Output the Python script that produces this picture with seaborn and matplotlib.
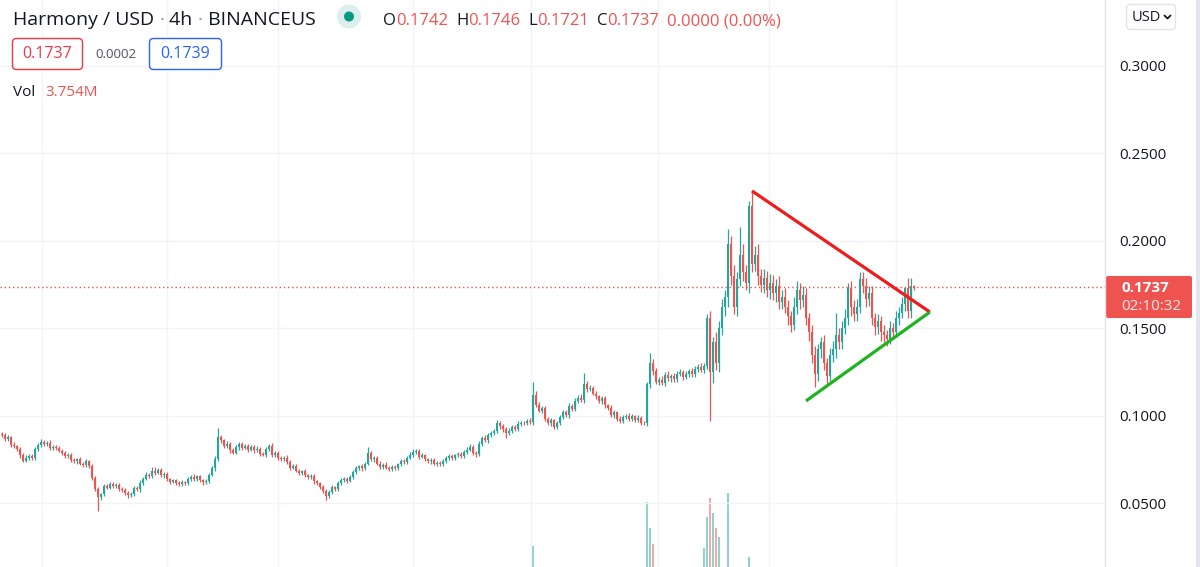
import numpy as np
import pandas as pd
import matplotlib
matplotlib.use("Agg")
import matplotlib.pyplot as plt
import seaborn as sns
from matplotlib.patches import FancyBboxPatch, Rectangle, Circle

# ---------------- data (prices in 1e-4 USD) ----------------
first_open = 895
closes = [
    890, 868, 878, 835, 826, 812, 775, 745, 762, 772,
    760, 812, 832, 852, 838, 848, 815, 825, 818, 802,
    790, 770, 778, 748, 740, 752, 728, 720, 742, 715,
    648, 585, 538, 552, 598, 590, 612, 600, 608, 585,
    578, 560, 548, 552, 590, 580, 618, 640, 662, 655,
    688, 676, 692, 660, 668, 640, 625, 632, 618, 610,
    622, 615, 640, 652, 640, 655, 632, 620, 628, 665,
    700, 752, 880, 860, 828, 842, 805, 790, 820, 842,
    818, 830, 808, 822, 805, 812, 785, 778, 810, 830,
    775, 790, 760, 752, 762, 738, 705, 715, 688, 675,
    685, 662, 650, 658, 628, 615, 595, 572, 542, 568,
    592, 580, 615, 635, 642, 630, 650, 678, 702, 712,
    700, 728, 790, 752, 762, 728, 708, 722, 705, 698,
    710, 702, 725, 742, 735, 762, 778, 792, 800, 768,
    775, 752, 740, 748, 728, 732, 725, 745, 760, 772,
    760, 775, 782, 772, 795, 808, 822, 790, 780, 842,
    875, 862, 890, 902, 915, 958, 940, 925, 905, 915,
    938, 925, 955, 962, 958, 972, 965, 1120, 1065, 1030,
    1045, 985, 962, 975, 935, 960, 995, 1022, 1005, 1058,
    1040, 1088, 1105, 1090, 1180, 1152, 1160, 1128, 1112, 1085,
    1100, 1060, 1048, 1005, 1020, 985, 972, 992, 1002, 985,
    998, 978, 990, 962, 958, 1180, 1300, 1255, 1195, 1208,
    1190, 1235, 1215, 1228, 1210, 1242, 1250, 1225, 1238, 1255,
    1240, 1270, 1282, 1265, 1285, 1560, 1250, 1420, 1300, 1500,
    1620, 1680, 1980, 1800, 1620, 1780, 1920, 1820, 1760, 2200,
    1870, 1920, 1800, 1750, 1790, 1720, 1760, 1700, 1740, 1650,
    1680, 1620, 1570, 1520, 1620, 1720, 1660, 1690, 1560, 1480,
    1350, 1240, 1380, 1420, 1300, 1230, 1350, 1380, 1460, 1420,
    1500, 1560, 1730, 1620, 1580, 1620, 1780, 1740, 1670, 1700,
    1560, 1510, 1540, 1480, 1460, 1440, 1500, 1480, 1560, 1590,
    1640, 1730, 1600, 1742, 1737,
]
wick_up = [
    15, 10, 12, 8, 14, 10, 9, 12, 15, 10,
    12, 10, 14, 18, 10, 8, 12, 10, 9, 12,
    10, 8, 12, 9, 10, 8, 11, 10, 14, 9,
    10, 8, 12, 10, 14, 12, 10, 9, 11, 10,
    8, 10, 9, 12, 10, 12, 14, 10, 16, 12,
    18, 20, 10, 9, 12, 10, 8, 10, 9, 12,
    10, 8, 12, 10, 14, 10, 9, 8, 10, 12,
    14, 20, 50, 12, 10, 14, 10, 12, 15, 10,
    12, 10, 9, 12, 10, 14, 8, 10, 14, 12,
    15, 10, 12, 9, 10, 14, 10, 9, 12, 10,
    8, 10, 9, 12, 10, 8, 10, 9, 12, 10,
    12, 10, 14, 10, 12, 10, 14, 12, 10, 9,
    12, 10, 30, 12, 10, 9, 12, 10, 14, 10,
    10, 12, 9, 10, 12, 10, 14, 18, 12, 10,
    12, 10, 9, 12, 10, 8, 10, 12, 14, 10,
    12, 10, 14, 12, 10, 15, 20, 12, 10, 14,
    12, 15, 10, 14, 12, 20, 15, 12, 10, 14,
    12, 10, 14, 10, 12, 10, 14, 75, 20, 15,
    12, 14, 10, 12, 10, 14, 12, 15, 10, 14,
    12, 15, 14, 18, 65, 20, 15, 12, 14, 10,
    12, 14, 10, 12, 15, 10, 14, 12, 10, 15,
    12, 10, 14, 10, 12, 15, 60, 25, 20, 15,
    18, 15, 20, 14, 18, 15, 20, 14, 18, 15,
    20, 18, 15, 20, 18, 20, 40, 30, 60, 40,
    50, 40, 90, 50, 60, 40, 160, 60, 40, 30,
    86, 50, 60, 40, 50, 40, 50, 45, 40, 60,
    40, 50, 40, 30, 60, 50, 40, 50, 40, 30,
    40, 50, 30, 30, 40, 30, 40, 50, 130, 40,
    40, 50, 30, 40, 40, 50, 40, 40, 50, 40,
    40, 30, 40, 30, 40, 30, 40, 30, 40, 30,
    40, 0, 60, 48, 4,
]
wick_dn = [
    10, 12, 9, 14, 10, 12, 15, 10, 8, 12,
    10, 9, 12, 10, 8, 12, 10, 9, 12, 10,
    12, 10, 9, 12, 10, 14, 10, 12, 9, 10,
    12, 14, 80, 20, 12, 10, 9, 12, 10, 14,
    12, 10, 15, 12, 10, 9, 12, 10, 8, 10,
    10, 12, 9, 10, 12, 10, 14, 10, 12, 10,
    9, 10, 12, 10, 9, 12, 10, 14, 10, 9,
    10, 12, 10, 14, 10, 12, 15, 10, 9, 12,
    10, 9, 12, 10, 14, 10, 12, 9, 10, 12,
    10, 12, 9, 10, 12, 10, 14, 10, 9, 12,
    10, 12, 9, 10, 14, 12, 10, 12, 20, 10,
    12, 10, 9, 12, 10, 14, 10, 12, 10, 9,
    12, 10, 10, 12, 14, 10, 12, 10, 9, 12,
    10, 12, 9, 10, 12, 10, 9, 12, 10, 14,
    10, 12, 10, 14, 10, 12, 10, 9, 12, 10,
    12, 10, 9, 12, 10, 14, 10, 12, 15, 10,
    12, 10, 14, 10, 12, 10, 14, 15, 30, 12,
    10, 12, 10, 14, 10, 12, 10, 15, 12, 10,
    14, 12, 15, 20, 12, 10, 14, 12, 10, 14,
    12, 10, 14, 12, 15, 14, 12, 10, 14, 12,
    15, 12, 14, 10, 15, 12, 14, 12, 10, 15,
    12, 14, 10, 12, 10, 15, 20, 18, 15, 20,
    15, 18, 14, 20, 15, 18, 14, 20, 15, 18,
    15, 20, 18, 15, 20, 15, 280, 60, 40, 50,
    40, 50, 60, 50, 40, 50, 40, 50, 40, 60,
    50, 40, 50, 40, 50, 40, 50, 40, 50, 40,
    40, 30, 50, 40, 30, 40, 50, 40, 40, 50,
    50, 74, 40, 50, 40, 50, 30, 40, 50, 40,
    40, 30, 40, 50, 40, 40, 30, 40, 50, 40,
    40, 50, 40, 50, 40, 40, 30, 40, 30, 40,
    30, 40, 40, 40, 16,
]
# volume spikes (candle index, volume in millions)
vol_idx = [177, 215, 216, 217, 234, 235, 236, 237, 238, 239, 242, 249]
vol_val = [22, 69, 41, 24, 20, 53, 73, 57, 41, 32, 78, 11]

price_ticks = [0.05, 0.10, 0.15, 0.20, 0.25, 0.30]
price_labels = ["0.0500", "0.1000", "0.1500", "0.2000", "0.2500", "0.3000"]
time_grid = [13.33, 55, 92, 137, 176.33, 218.67, 255.67, 298]

last_price = 0.1737
res_x = [250, 309.3]
res_y = [0.2286, 0.1594]
sup_x = [268, 309.3]
sup_y = [0.1086, 0.1594]

UP, DN = "#26a69a", "#ef5350"

# ---------------- derived OHLC ----------------
c = np.array(closes) / 1e4
o = np.concatenate([[first_open / 1e4], c[:-1]])
hi = np.maximum(o, c) + np.array(wick_up) / 1e4
lo = np.minimum(o, c) - np.array(wick_dn) / 1e4
idx = np.arange(len(c))
df = pd.DataFrame({"i": idx, "open": o, "close": c, "high": hi, "low": lo})
df["up"] = df["close"] >= df["open"]
df["color"] = np.where(df["up"], UP, DN)

# ---------------- figure ----------------
sns.set_theme(style="white")
plt.rcParams["font.family"] = ["Open Sans", "DejaVu Sans"]
W, H = 1200, 567
fig = plt.figure(figsize=(W / 100, H / 100), dpi=100)
fig.patch.set_facecolor("white")
rect = [0, 0, 1105 / W, 1]
XL = (-0.667, 367.67)

axv = fig.add_axes(rect)
axv.set_xlim(*XL)
axv.set_ylim(0, 600)
axv.axis("off")
vcol = [UP if df["up"][k] else DN for k in vol_idx]
axv.bar(vol_idx, vol_val, width=0.5, color=vcol, alpha=0.5, linewidth=0)

ax = fig.add_axes(rect)
ax.patch.set_visible(False)
ax.set_xlim(*XL)
ax.set_ylim(0.013714, 0.33771)
for s in ax.spines.values():
    s.set_visible(False)
ax.set_yticks(price_ticks)
ax.set_yticklabels(price_labels)
ax.yaxis.tick_right()
ax.tick_params(axis="y", length=0, pad=10, labelsize=11, labelcolor="#131722")
ax.set_xticks(time_grid)
ax.tick_params(axis="x", length=0, labelbottom=False)
ax.grid(True, color="#f0f3fa", linewidth=1)
ax.set_axisbelow(True)

ax.vlines(df["i"], df["low"], df["high"], colors=df["color"], linewidth=0.9, zorder=2)
body = np.maximum((df["close"] - df["open"]).abs(), 0.00025)
ax.bar(df["i"], body, bottom=np.minimum(df["open"], df["close"]), width=0.7,
       color=df["color"], linewidth=0, zorder=3)

ax.axhline(last_price, color=DN, linewidth=1, linestyle=(0, (1, 2)), zorder=1)

tl = pd.DataFrame({"x": res_x + sup_x, "y": res_y + sup_y,
                   "line": ["res", "res", "sup", "sup"]})
sns.lineplot(data=tl[tl.line == "res"], x="x", y="y", ax=ax, color="#ee1c1c",
             linewidth=2.3, zorder=5, legend=False, solid_capstyle="butt")
sns.lineplot(data=tl[tl.line == "sup"], x="x", y="y", ax=ax, color="#1fb31f",
             linewidth=2.3, zorder=5, legend=False, solid_capstyle="butt")
ax.set_xlabel("")
ax.set_ylabel("")
ax.set_xlim(*XL)

# ---------------- overlay (pixel space) ----------------
ov = fig.add_axes([0, 0, 1, 1])
ov.set_xlim(0, W)
ov.set_ylim(H, 0)
ov.axis("off")
ov.patch.set_visible(False)

ov.plot([1105, 1105], [0, H], color="#e0e3eb", linewidth=1)
ov.add_patch(Rectangle((1196, 0), 4, H, facecolor="#e3e6ee", edgecolor="none"))

renderer = fig.canvas.get_renderer()
DARK = "#131722"


def seq(x, y, parts, size, gap=0.0, **kw):
    for s, col in parts:
        if s == " ":
            x += gap
            continue
        t = ov.text(x, y, s, color=col, fontsize=size, va="baseline", ha="left", **kw)
        x += t.get_window_extent(renderer).width
    return x


seq(13, 25, [("Harmony / USD ", DARK), ("·", "#9598a1"), (" 4h ", DARK),
             ("·", "#9598a1"), (" BINANCEUS", DARK)], 14)

ov.add_patch(Circle((349, 16.5), 12, facecolor="#dcefec", edgecolor="none"))
ov.add_patch(Circle((349, 16.5), 5, facecolor="#089981", edgecolor="none"))

seq(383, 25, [("O", DARK), ("0.1742", DN), (" ", None), ("H", DARK), ("0.1746", DN),
              (" ", None), ("L", DARK), ("0.1721", DN), (" ", None), ("C", DARK),
              ("0.1737", DN), (" ", None), ("0.0000 (0.00%)", DN)], 12, gap=8)

ov.add_patch(FancyBboxPatch((12.5, 38.5), 70, 31, boxstyle="round,pad=0,rounding_size=4",
                            facecolor="white", edgecolor="#f23645", linewidth=1))
ov.text(47.5, 54.5, "0.1737", color="#f23645", fontsize=11.5, ha="center", va="center")
ov.text(95, 54.5, "0.0002", color="#50535e", fontsize=9.5, ha="left", va="center")
ov.add_patch(FancyBboxPatch((149.5, 38.5), 72, 31, boxstyle="round,pad=0,rounding_size=4",
                            facecolor="white", edgecolor="#2962ff", linewidth=1))
ov.text(185.5, 54.5, "0.1739", color="#2962ff", fontsize=11.5, ha="center", va="center")

seq(13, 96, [("Vol", DARK), (" ", None), ("3.754M", DN)], 11, gap=10)

# USD box
ov.add_patch(FancyBboxPatch((1126.5, 4.5), 49, 25, boxstyle="round,pad=0,rounding_size=4",
                            facecolor="white", edgecolor="#e0e3eb", linewidth=1))
ov.text(1132, 17.5, "USD", color=DARK, fontsize=10.5, ha="left", va="center")
ov.plot([1164.5, 1167.5, 1170.5], [15.5, 18.5, 15.5], color=DARK, linewidth=1.3,
        solid_capstyle="round")

# last price label
ov.add_patch(FancyBboxPatch((1106, 276), 86, 42, boxstyle="round,pad=0,rounding_size=2",
                            facecolor=DN, edgecolor="none"))
ov.text(1121, 288.5, "0.1737", color="white", fontsize=11, fontweight="bold",
        ha="left", va="center")
ov.text(1121, 306.5, "02:10:32", color="#fde8e8", fontsize=11, ha="left", va="center")

fig.savefig("out.png", dpi=100, facecolor="white")
